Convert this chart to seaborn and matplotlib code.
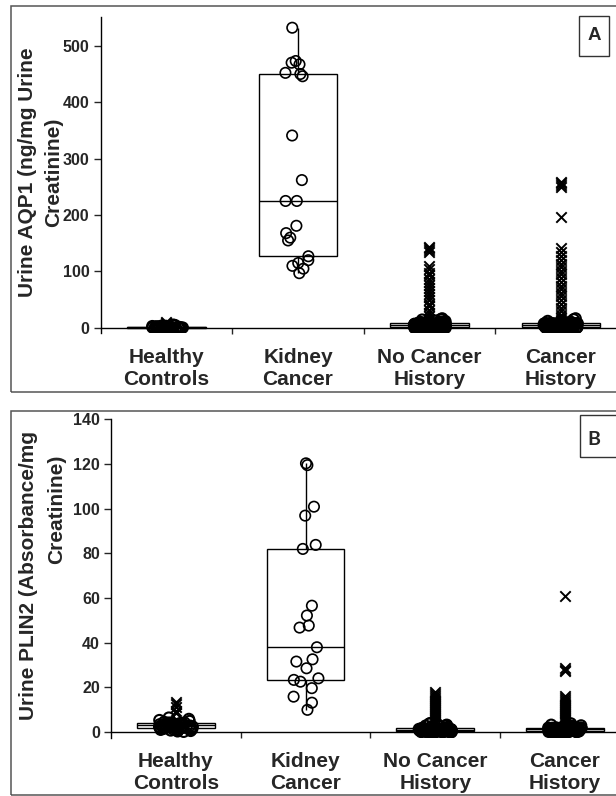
import numpy as np
import pandas as pd
import matplotlib
matplotlib.use("Agg")
import matplotlib.pyplot as plt
from matplotlib.patches import Rectangle
import seaborn as sns

# ---------------------------------------------------------------- data
groups = ["Healthy Controls", "Kidney Cancer", "No Cancer History", "Cancer History"]
group_labels = ["Healthy\nControls", "Kidney\nCancer", "No Cancer\nHistory", "Cancer\nHistory"]

# Panel A: urine AQP1 (ng/mg urine creatinine)
aqp1_healthy = [0.0, 0.1, 0.1, 0.2, 0.2, 0.3, 0.3, 0.4, 0.4, 0.5, 0.5, 0.6, 0.7, 0.7,
                0.8, 0.9, 1.0, 1.0, 1.1, 1.2, 1.3, 1.4, 1.5, 1.6, 1.7, 1.8, 1.9, 2.0,
                2.2, 2.3, 2.5, 2.8, 3.1, 3.5, 3.9, 4.4, 5.0, 5.7]
aqp1_healthy_high = [8.0, 11.0]
aqp1_kidney = [97, 105, 110, 115, 120, 127, 155, 160, 168, 181, 225, 225, 262, 341,
               446, 450, 452, 467, 470, 473, 532]
aqp1_nohist = [0.0, 0.0, 0.0, 0.1, 0.1, 0.1, 0.2, 0.2, 0.3, 0.3,
               0.3, 0.4, 0.4, 0.5, 0.5, 0.6, 0.6, 0.7, 0.7, 0.8,
               0.8, 0.9, 0.9, 1.0, 1.1, 1.1, 1.2, 1.3, 1.3, 1.4,
               1.5, 1.5, 1.6, 1.7, 1.8, 1.9, 2.0, 2.0, 2.1, 2.2,
               2.3, 2.4, 2.5, 2.6, 2.7, 2.8, 2.9, 3.0, 3.1, 3.2,
               3.4, 3.5, 3.6, 3.8, 3.9, 4.0, 4.2, 4.3, 4.5, 4.6,
               4.7, 4.9, 5.0, 5.2, 5.3, 5.5, 5.6, 5.8, 5.9, 6.0,
               6.2, 6.3, 6.4, 6.6, 6.7, 6.8, 6.9, 7.0, 7.1, 7.2,
               7.2, 7.3, 7.3, 7.4, 7.4, 7.5, 7.5, 7.5, 7.6, 7.6,
               7.6, 7.7, 7.7, 7.8, 7.8, 7.9, 8.0, 8.1,
               8.9, 9.7, 10.4, 11.2, 12.0, 12.9, 13.7, 14.6, 15.5, 16.8]
aqp1_nohist_high = [16, 21, 27, 32, 38, 43, 49, 54, 60, 65, 71, 76, 82, 87, 93, 98,
                    104, 110, 135, 138, 141, 144]
aqp1_hist = [0.0, 0.0, 0.1, 0.1, 0.1, 0.2, 0.2, 0.2, 0.3, 0.3,
             0.4, 0.4, 0.5, 0.5, 0.6, 0.6, 0.7, 0.7, 0.8, 0.9,
             0.9, 1.0, 1.1, 1.1, 1.2, 1.3, 1.4, 1.4, 1.5, 1.6,
             1.7, 1.8, 1.9, 2.0, 2.1, 2.2, 2.3, 2.4, 2.5, 2.6,
             2.8, 2.9, 3.0, 3.1, 3.3, 3.4, 3.5, 3.7, 3.8, 3.9,
             4.1, 4.2, 4.4, 4.5, 4.6, 4.8, 4.9, 5.1, 5.2, 5.4,
             5.5, 5.7, 5.8, 5.9, 6.1, 6.2, 6.4, 6.5, 6.6, 6.8,
             6.9, 7.0, 7.1, 7.2, 7.3, 7.4, 7.5, 7.6, 7.7, 7.8,
             7.8, 7.9, 8.0, 8.0, 8.1, 8.1, 8.2, 8.2, 8.3, 8.3,
             8.4, 8.4, 8.5, 8.5, 8.6, 8.7,
             9.4, 11.0, 12.2, 13.9, 15.2, 16.8]
aqp1_hist_high = [17, 23, 30, 36, 43, 49, 56, 62, 69, 75, 82, 88, 95, 101, 108, 114,
                  121, 127, 134, 141, 197, 250, 253, 256, 259]

# Panel B: urine PLIN2 (absorbance/mg creatinine)
plin2_healthy = [0.2, 0.4, 0.6, 0.8, 1.0, 1.1, 1.2, 1.3, 1.4, 1.5, 1.6, 1.7, 1.8, 1.9,
                 2.0, 2.1, 2.2, 2.3, 2.4, 2.5, 2.5, 2.6, 2.7, 2.8, 2.9, 3.0, 3.1, 3.2,
                 3.2, 3.3, 3.4, 3.5, 3.6, 3.7, 3.8, 3.9, 4.0, 4.1, 4.2, 4.3, 4.3, 4.6,
                 5.0, 5.4, 5.9, 6.5]
plin2_healthy_high = [8.5, 9.6, 11.4, 12.5, 13.7]
plin2_kidney = [120.3, 119.5, 100.9, 96.9, 83.8, 82.0, 56.6, 52.2, 47.7, 46.8, 38.0,
                32.6, 31.6, 28.6, 24.1, 23.4, 22.6, 19.7, 15.9, 13.2, 10.0]
plin2_nohist = [0.0, 0.0, 0.0, 0.0, 0.0, 0.1, 0.1, 0.1, 0.1, 0.1,
                0.2, 0.2, 0.2, 0.2, 0.2, 0.3, 0.3, 0.3, 0.3, 0.3,
                0.4, 0.4, 0.4, 0.4, 0.5, 0.5, 0.5, 0.5, 0.6, 0.6,
                0.6, 0.6, 0.7, 0.7, 0.7, 0.7, 0.8, 0.8, 0.8, 0.8,
                0.9, 0.9, 0.9, 0.9, 1.0, 1.0, 1.0, 1.0, 1.1, 1.1,
                1.1, 1.1, 1.2, 1.2, 1.2, 1.2, 1.3, 1.3, 1.3, 1.3,
                1.4, 1.4, 1.4, 1.4, 1.4, 1.5, 1.5, 1.5, 1.5, 1.5,
                1.5, 1.5, 1.6, 1.6, 1.6, 1.6, 1.6, 1.6, 1.7, 1.7,
                1.7, 1.7,
                1.9, 2.1, 2.3, 2.5, 2.7, 2.9, 3.1, 3.3, 3.6, 3.8, 4.0]
plin2_nohist_high = [4.4, 5.3, 6.2, 7.1, 8.0, 8.9, 9.9, 10.8, 11.7, 12.6, 13.5, 14.4,
                     15.4, 16.2, 17.3, 18.2]
plin2_hist = [0.0, 0.0, 0.0, 0.0, 0.1, 0.1, 0.1, 0.1, 0.2, 0.2,
              0.2, 0.2, 0.3, 0.3, 0.3, 0.3, 0.4, 0.4, 0.4, 0.5,
              0.5, 0.5, 0.6, 0.6, 0.6, 0.7, 0.7, 0.7, 0.8, 0.8,
              0.8, 0.9, 0.9, 0.9, 1.0, 1.0, 1.0, 1.1, 1.1, 1.1,
              1.2, 1.2, 1.2, 1.3, 1.3, 1.3, 1.3, 1.4, 1.4, 1.4,
              1.4, 1.5, 1.5, 1.5, 1.5, 1.6, 1.6, 1.6, 1.6, 1.7,
              1.7, 1.7, 1.7, 1.8, 1.8, 1.8, 1.8, 1.8, 1.8, 1.8,
              1.9, 1.9, 1.9, 1.9, 1.9, 1.9, 2.0, 2.0, 2.0, 2.0,
              2.1, 2.3, 2.6, 2.8, 3.0, 3.3, 3.6, 3.9]
plin2_hist_high = [4.5, 5.4, 6.3, 7.2, 8.1, 9.0, 9.9, 10.8, 11.7, 12.6, 13.5, 14.4,
                   15.3, 16.2, 27.2, 28.0, 28.8, 61.0]

aqp1_ticks = [0, 100, 200, 300, 400, 500]
plin2_ticks = [0, 20, 40, 60, 80, 100, 120, 140]


def long_table(circles, crosses):
    rows = []
    for g, vals in zip(groups, circles):
        rows += [(g, v, "circle") for v in vals]
    for g, vals in zip(groups, crosses):
        rows += [(g, v, "cross") for v in vals]
    return pd.DataFrame(rows, columns=["group", "value", "mark"])


df_a = long_table([aqp1_healthy, aqp1_kidney, aqp1_nohist, aqp1_hist],
                  [aqp1_healthy_high, [], aqp1_nohist_high, aqp1_hist_high])
df_b = long_table([plin2_healthy, plin2_kidney, plin2_nohist, plin2_hist],
                  [plin2_healthy_high, [], plin2_nohist_high, plin2_hist_high])

# ---------------------------------------------------------------- style
sns.set_style("white")
plt.rcParams["font.family"] = ["Liberation Sans", "DejaVu Sans"]
plt.rcParams["font.weight"] = "bold"
np.random.seed(3)

W, H = 616, 796
fig = plt.figure(figsize=(W / 100, H / 100), dpi=100)


def fx(px):
    return px / W


def fy(py):
    return 1 - py / H


def draw_panel(ax, df, yticks, ylim):
    sns.boxplot(data=df, x="group", y="value", order=groups, width=0.6, whis=1.5,
                showfliers=False, showcaps=False, color="white", linecolor="black",
                linewidth=1.0, ax=ax)
    circ = df[df["mark"] == "circle"]
    kid = circ[circ["group"] == "Kidney Cancer"]
    rest = circ[circ["group"] != "Kidney Cancer"]
    cross = df[df["mark"] == "cross"]
    common = dict(x="group", y="value", order=groups, ax=ax, zorder=3)
    sns.stripplot(data=kid, jitter=0.1, marker="o", size=7.5, facecolor="none",
                  edgecolor="black", linewidth=1.2, **common)
    sns.stripplot(data=rest, jitter=0.13, marker="o", size=7.5, facecolor="none",
                  edgecolor="black", linewidth=1.5, **common)
    sns.stripplot(data=cross, jitter=False, marker="x", size=7.5, color="black",
                  linewidth=1.4, **common)

    ax.set_xlim(-0.5, 3.5)
    ax.set_ylim(*ylim)
    ax.set_xlabel("")
    ax.set_ylabel("")
    ax.set_facecolor("none")
    for side in ("top", "right"):
        ax.spines[side].set_visible(False)
    ax.spines["bottom"].set_position(("data", 0))
    for side in ("bottom", "left"):
        ax.spines[side].set_linewidth(1.0)
        ax.spines[side].set_color("black")

    ax.set_yticks(yticks)
    ax.set_yticklabels([str(t) for t in yticks], fontsize=11.5, fontweight="bold")
    ax.tick_params(axis="y", direction="out", length=5, width=1.0, pad=3, left=True)

    ax.set_xticks([0.5, 1.5, 2.5])
    ax.set_xticklabels([])
    ax.tick_params(axis="x", which="major", direction="out", length=4.5, width=1.0,
                   bottom=True)
    ax.set_xticks([0, 1, 2, 3], minor=True)
    ax.set_xticklabels(group_labels, minor=True, fontsize=15, fontweight="bold",
                       linespacing=1.2)
    ax.tick_params(axis="x", which="minor", length=0, pad=14.5)


ax_a = fig.add_axes([fx(100.7), fy(333), fx(526), 316 / H])
ax_b = fig.add_axes([fx(111), fy(738), fx(518.8), (738 - 419.3) / H])

draw_panel(ax_a, df_a, aqp1_ticks, (-9, 551))
draw_panel(ax_b, df_b, plin2_ticks, (-2.6, 140))

# panel frames
for top, bottom in ((6, 392), (410.7, 795)):
    fig.add_artist(Rectangle((fx(11), fy(bottom)), fx(630 - 11), (bottom - top) / H,
                             transform=fig.transFigure, fill=False,
                             edgecolor="#555555", linewidth=1.1))

# y-axis titles
ylab = dict(rotation=90, rotation_mode="anchor", ha="center", va="baseline",
            fontsize=15, fontweight="bold")
fig.text(fx(33.5), fy(172), "Urine AQP1 (ng/mg Urine", **ylab)
fig.text(fx(59.5), fy(172), "Creatinine)", **ylab)
fig.text(fx(34.5), fy(575), "Urine PLIN2 (Absorbance/mg", **ylab)
fig.text(fx(62), fy(509), "Creatinine)", **ylab)

# panel letters
fig.add_artist(Rectangle((fx(579), fy(55.7)), fx(30), 40 / H, transform=fig.transFigure,
                         fill=False, edgecolor="#333333", linewidth=1.0))
fig.text(fx(594), fy(36), "A", ha="center", va="center", fontsize=13.5,
         fontweight="bold")
fig.add_artist(Rectangle((fx(580), fy(456.7)), fx(50), 41.7 / H,
                         transform=fig.transFigure, fill=False, edgecolor="#333333",
                         linewidth=1.0))
fig.text(fx(594), fy(440), "B", ha="center", va="center", fontsize=14,
         fontweight="bold", family=["Lato", "DejaVu Sans"])

fig.savefig("out.png", dpi=100)
